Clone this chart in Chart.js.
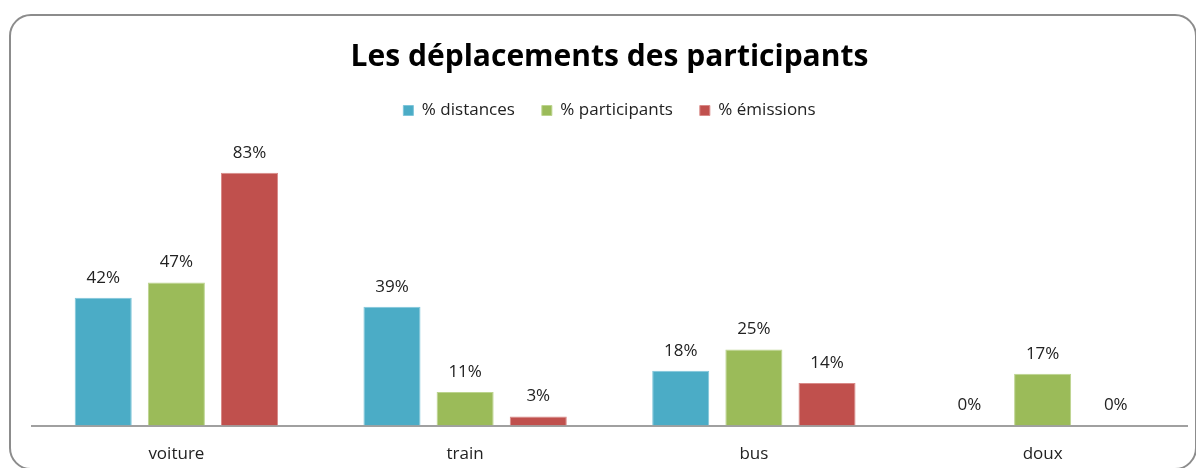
<!DOCTYPE html>
<html>
<head>
<meta charset="utf-8">
<script src="https://cdn.jsdelivr.net/npm/chart.js@4"></script>
<style>
html,body{margin:0;padding:0;background:#fff;}
#wrap{position:relative;width:1196px;height:468px;overflow:hidden;}
#frame{position:absolute;left:9px;top:14px;width:1188px;height:456px;border:2px solid #8c8c8c;border-radius:22px;box-sizing:border-box;}
canvas{position:absolute;left:0;top:0;}
</style>
</head>
<body>
<div id="wrap">
<div id="frame"></div>
<canvas id="c" width="1196" height="488"></canvas>
</div>
<script>
const categories = ["voiture", "train", "bus", "doux"];
const seriesNames = ["% distances", "% participants", "% émissions"];
const distances = [42, 39, 18, 0];
const participants = [47, 11, 25, 17];
const emissions = [83, 3, 14, 0];
const colors = ["#4BACC6", "#9BBB59", "#C0504D"];
const titleText = "Les déplacements des participants";

const FONT = "'Open Sans', Lato, sans-serif";

const valueLabels = {
  id: 'valueLabels',
  afterDatasetsDraw(chart) {
    const ctx = chart.ctx;
    ctx.save();
    ctx.font = "17px " + FONT;
    ctx.fillStyle = "#222";
    ctx.textAlign = "center";
    ctx.textBaseline = "middle";
    chart.data.datasets.forEach((ds, i) => {
      const meta = chart.getDatasetMeta(i);
      meta.data.forEach((el, j) => {
        ctx.fillText(ds.data[j] + "%", el.x, el.y - 20);
      });
    });
    ctx.restore();
  }
};

new Chart(document.getElementById('c'), {
  type: 'bar',
  data: {
    labels: categories,
    datasets: [
      {label: seriesNames[0], data: distances, backgroundColor: colors[0], borderColor: "#7fc6da", borderWidth: 1},
      {label: seriesNames[1], data: participants, backgroundColor: colors[1], borderColor: "#bcd48e", borderWidth: 1},
      {label: seriesNames[2], data: emissions, backgroundColor: colors[2], borderColor: "#d98a88", borderWidth: 1}
    ]
  },
  options: {
    responsive: false,
    animation: false,
    devicePixelRatio: 1,
    layout: {padding: {left: 32, right: 9, top: 39, bottom: 6}},
    categoryPercentage: 0.76,
    barPercentage: 0.78,
    plugins: {
      title: {
        display: true,
        text: titleText,
        color: "#000",
        font: {family: FONT, size: 30, weight: "bold"},
        padding: {top: 0, bottom: 0}
      },
      legend: {
        display: true,
        labels: {
          boxWidth: 10, boxHeight: 10,
          color: "#222",
          font: {family: FONT, size: 17},
          padding: 27
        }
      },
      tooltip: {enabled: false}
    },
    scales: {
      x: {
        grid: {display: false, drawTicks: false},
        border: {display: true, color: "#a0a0a0", width: 2},
        ticks: {color: "#222", font: {family: FONT, size: 17}, padding: 18}
      },
      y: {
        display: false,
        min: 0,
        max: 97.4
      }
    }
  },
  plugins: [valueLabels]
});
</script>
</body>
</html>
